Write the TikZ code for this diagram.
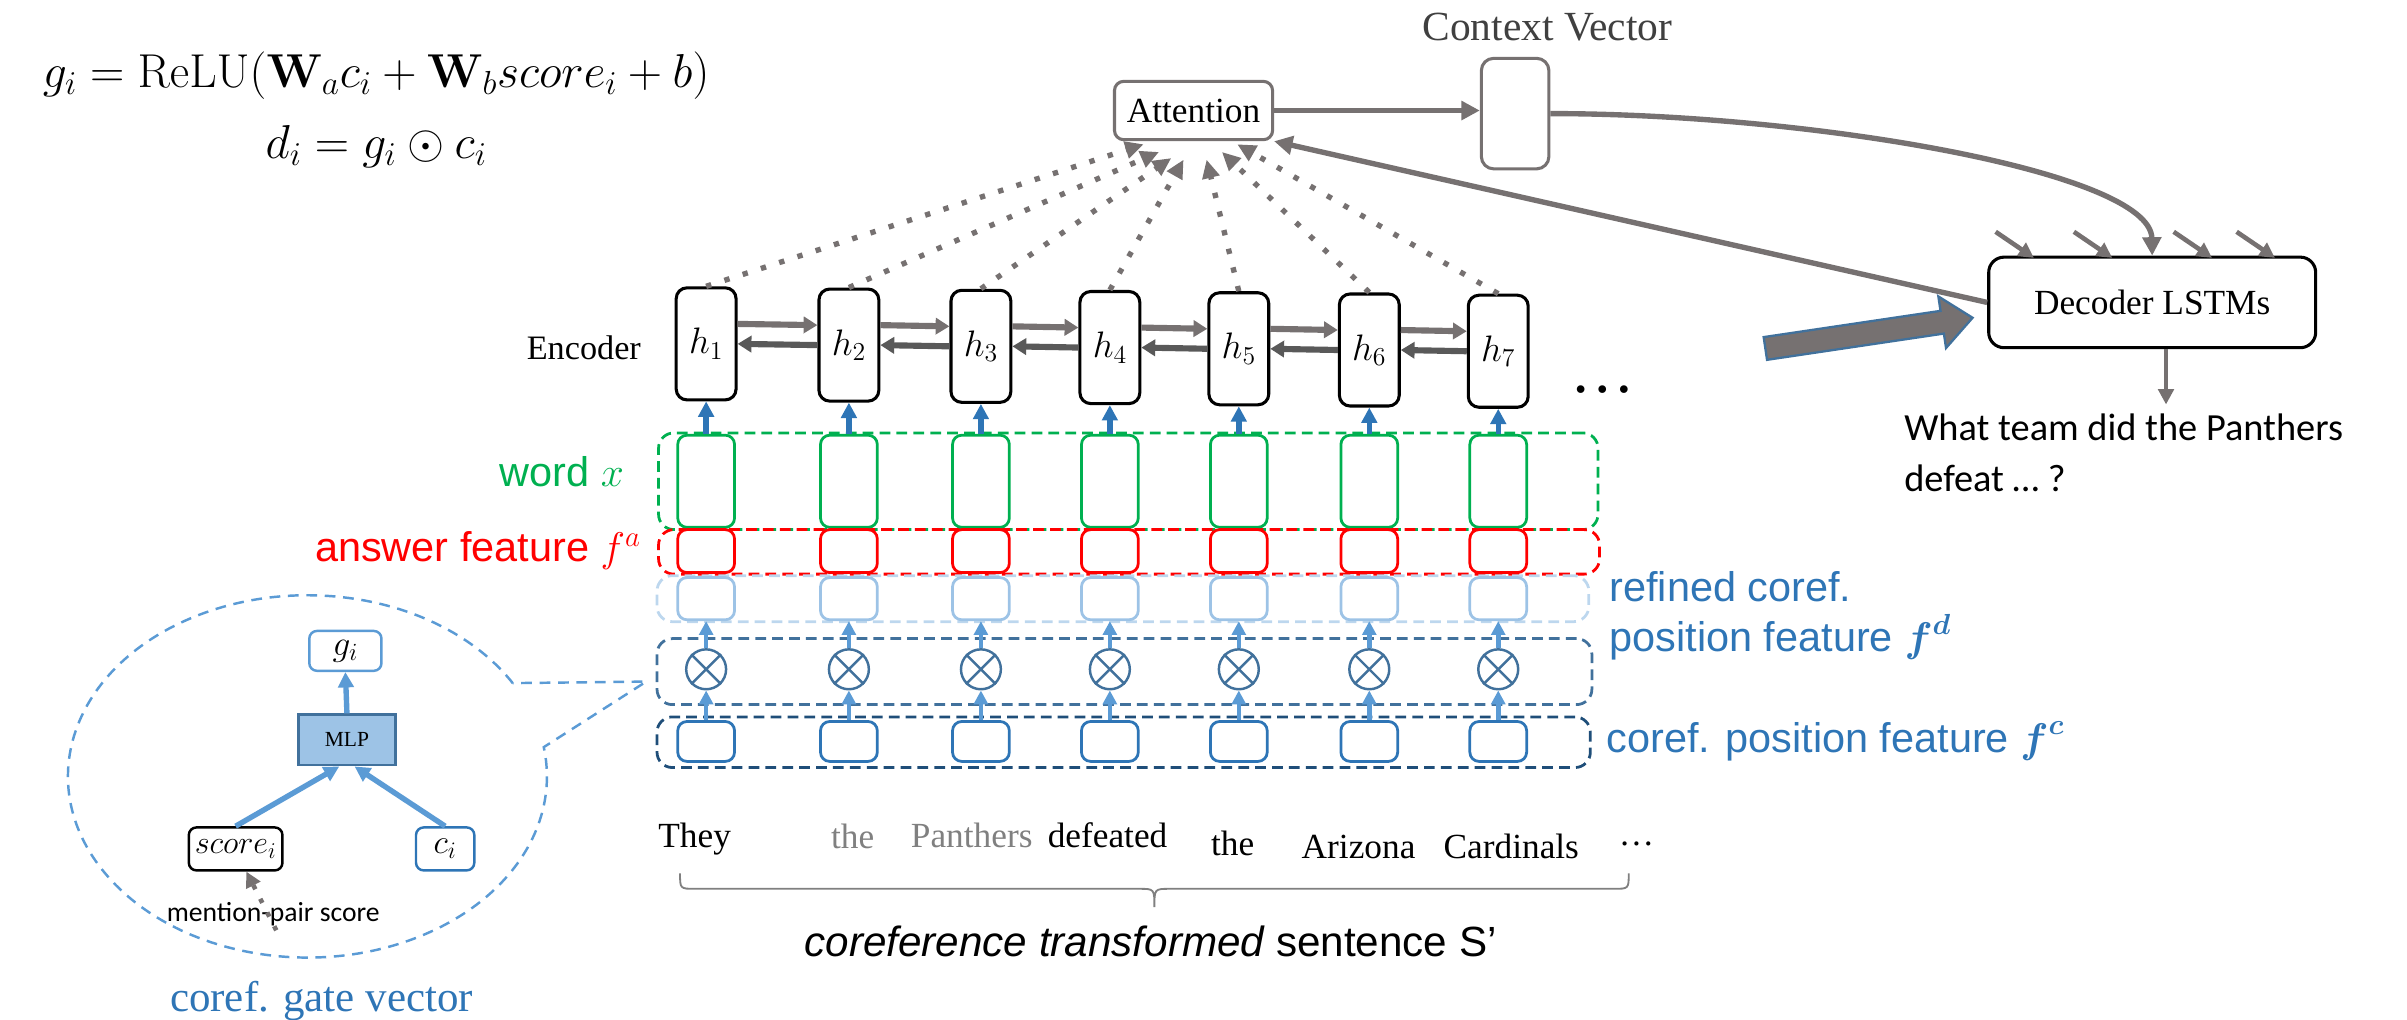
\RequirePackage{fix-cm}
\documentclass[tikz,border=0pt]{standalone}
\usepackage{amsmath}
\usepackage[no-math]{fontspec}
\setmainfont{Liberation Serif}
\newfontfamily\fArial{Liberation Sans}
\newfontfamily\fCal{Carlito}
\usetikzlibrary{arrows.meta,calc}
\definecolor{agray}{HTML}{767171}
\definecolor{dgray}{HTML}{595959}
\definecolor{tgray}{HTML}{404040}
\definecolor{wgray}{HTML}{808080}
\definecolor{cgreen}{HTML}{00B050}
\definecolor{cred}{HTML}{FF0000}
\definecolor{bT}{HTML}{2E75B6}
\definecolor{bM}{HTML}{5B9BD5}
\definecolor{bL}{HTML}{9DC3E6}
\definecolor{bLL}{HTML}{BDD7EE}
\definecolor{bS}{HTML}{41719C}
\definecolor{bN}{HTML}{1F4E79}
\tikzset{
 hbox/.style={draw=black, line width=2pt, rounded corners=7pt, minimum width=39pt, minimum height=73pt, inner sep=0pt, font=\fontsize{24}{28}\selectfont},
 colbox/.style={rounded corners=6pt, line width=1.8pt, minimum width=37pt, inner sep=0pt},
 grp/.style={dash pattern=on 7pt off 4pt, line width=1.8pt, rounded corners=10pt, inner sep=0pt},
 otimes/.style={circle, draw=bS, line width=1.6pt, minimum size=26pt, inner sep=0pt},
 fwd/.style={draw=agray, line width=4pt, -{Triangle[length=9pt,width=10.5pt]}},
 bwd/.style={draw=dgray, line width=4pt, -{Triangle[length=9pt,width=10.5pt]}},
 dotarr/.style={draw=agray, line width=3.5pt, dash pattern=on 3.5pt off 9pt, -{Triangle[length=12pt,width=11pt]}},
 bup/.style={draw=bT, line width=3.5pt, -{Triangle[length=10pt,width=10pt]}},
 mup/.style={draw=bM, line width=3pt, -{Triangle[length=9pt,width=9pt]}},
 garr/.style={draw=agray, line width=3.5pt, -{Triangle[length=12pt,width=12pt]}},
 sarr/.style={draw=agray, line width=3pt, -{Triangle[length=10pt,width=10pt]}},
 serif/.style={font=\fontsize{23}{27}\selectfont},
 sans/.style={font=\fArial\fontsize{27}{32}\selectfont},
}
\begin{document}
\begin{tikzpicture}[x=1pt,y=-1pt]
\useasboundingbox (0,0) rectangle (1568,664);

% formula
\node[anchor=base, font=\fontsize{31}{37}\selectfont] (f1) at (245,57) {$g_i = \mathrm{ReLU}(\mathbf{W}_a c_i + \mathbf{W}_b score_i + b)$};
\node[anchor=base, font=\fontsize{31}{37}\selectfont] (f2) at (245,103) {$d_i = g_i \odot c_i$};

% group boxes
\node[grp, draw=cgreen, minimum width=612pt, minimum height=63pt] (G) at (735,313.5) {};
\node[grp, draw=cred, minimum width=613pt, minimum height=29pt] (R) at (735.5,359.5) {};
\node[grp, draw=bLL, minimum width=607pt, minimum height=30pt] (L) at (731.5,390) {};
\node[grp, draw=bS, minimum width=609pt, minimum height=43pt] (O) at (732.5,437.5) {};
\node[grp, draw=bN, minimum width=608pt, minimum height=33pt] (C) at (732,483.5) {};

% columns
\foreach \i/\x in {1/460,2/553,3/639,4/723,5/807,6/892,7/976}{
 \pgfmathsetmacro\yh{224+0.8*(\i-1)}
 \node[hbox] (h\i) at (\x,\yh) {$h_{\i}$};
 \node[colbox, draw=cgreen, minimum height=60pt] (g\i) at (\x,313.5) {};
 \node[colbox, draw=cred, minimum height=28pt] (r\i) at (\x,359) {};
 \node[colbox, draw=bL, minimum height=27.5pt] (l\i) at (\x,390) {};
 \node[otimes] (o\i) at (\x,436) {};
 \node[colbox, draw=bT, minimum height=26pt] (c\i) at (\x,483) {};
 \draw[bS, line width=1.6pt] (o\i.north west) -- (o\i.south east) (o\i.north east) -- (o\i.south west);
 \draw[bup] (g\i.north) -- (h\i.south);
 \draw[mup] (o\i.north) -- (l\i.south);
 \draw[mup] (c\i.north) -- (o\i.south);
}
\foreach \i/\j in {1/2,2/3,3/4,4/5,5/6,6/7}{
 \draw[fwd] ([yshift=13pt]h\i.east) -- ([yshift=13pt]h\j.west);
 \draw[bwd] (h\j.west) -- (h\i.east);
}
\node[anchor=base, font=\fontsize{42}{50}\selectfont] (ell) at (1044,256) {…};
\node[anchor=base east, font=\fontsize{22.3}{26}\selectfont] (enc) at (421,234.5) {Encoder};

% labels
\node[anchor=base east, text=cgreen, sans] (lw) at (410,317) {word $x$};
\node[anchor=base east, text=cred, sans] (la) at (421,366) {answer feature $f^{a}$};
\node[anchor=base west, text=bT, sans] (lr1) at (1045,392) {refined coref.};
\node[anchor=base west, text=bT, sans] (lr2) at (1045,424.5) {position feature $\boldsymbol{f}^{\boldsymbol{d}}$};
\node[anchor=base west, text=bT, sans] (lc) at (1043,490) {coref. position feature $\boldsymbol{f}^{\boldsymbol{c}}$};

% attention and context
\node[draw=agray, line width=2pt, rounded corners=6pt, minimum width=103pt, minimum height=38pt, inner sep=0pt, serif] (att) at (777.5,72) {Attention};
\node[draw=agray, line width=2pt, rounded corners=8pt, minimum width=44pt, minimum height=72pt, inner sep=0pt] (ctx) at (987,74) {};
\node[anchor=base, text=tgray, font=\fontsize{27}{32}\selectfont] (ctxl) at (1008,26.5) {Context Vector};
\draw[garr] (att.east) -- (att.east -| ctx.west);
\foreach \i/\x/\y in {1/745/94,2/755/99,3/763/103,4/771/104,5/786/104,6/796/99,7/806/94}{
 \coordinate (a\i) at (\x,\y);
 \draw[dotarr] (h\i.north) -- (a\i);
}

% decoder
\node[draw=black, line width=2pt, rounded corners=10pt, minimum width=213pt, minimum height=59pt, inner sep=0pt, serif] (dec) at (1402,197) {Decoder LSTMs};
\draw[garr] (ctx.east) .. controls (1180,74) and (1401,112) .. (dec.north);
\draw[garr] (dec.west) -- (att.south east);
\foreach \i/\x in {1/1300,2/1351,3/1416,4/1457}{
 \coordinate (s\i) at (\x,151);
 \coordinate (t\i) at (\x+25,168);
 \draw[sarr] (s\i) -- (t\i);
}
\filldraw[fill=agray, draw=bS, line width=1.5pt] (1148.9,219.6) -- (1264.1,202.5) -- (1262.7,193.1) -- (1285,207) -- (1267.7,226.7) -- (1266.3,217.3) -- (1151.1,234.4) -- cycle;
\node[anchor=base west, font=\fCal\fontsize{25}{30}\selectfont] (q1) at (1237,287) {What team did the Panthers};
\node[anchor=base west, font=\fCal\fontsize{25}{30}\selectfont] (q2) at (1237,320) {defeat … ?};
\draw[sarr] ([xshift=9pt]dec.south) -- ++(0,36);

% sentence
\node[anchor=base, serif] (w1) at (452.5,552) {They};
\node[anchor=base, serif, text=wgray] (w2) at (555.5,553) {the};
\node[anchor=base, serif, text=wgray] (w3) at (633,552) {Panthers};
\node[anchor=base, serif] (w4) at (721.5,552) {defeated};
\node[anchor=base, serif] (w5) at (803,557) {the};
\node[anchor=base, serif] (w6) at (885,559) {Arizona};
\node[anchor=base, serif] (w7) at (984.5,559) {Cardinals};
\node[anchor=base, serif] (w8) at (1066,551) {…};
\draw[wgray, line width=1.2pt] (443,569) .. controls (443,579) .. (453,579) -- (742,579) .. controls (752,579) .. (752,591) .. controls (752,579) .. (762,579) -- (1051,579) .. controls (1061,579) .. (1061,569);
\node[anchor=base, font=\fArial\fontsize{27.5}{32}\selectfont] (sent) at (749.5,623) {\itshape coreference transformed\upshape{} sentence S’};

% gate bubble
\coordinate (tip) at (421,444);
\draw[bM, dash pattern=on 7pt off 5pt, line width=1.6pt] (334,445) arc[start angle=31, end angle=369.3, x radius=156pt, y radius=118pt] -- (tip) -- cycle;
\node[draw=bM, line width=1.6pt, rounded corners=5pt, minimum width=47pt, minimum height=26pt, inner sep=0pt, font=\fontsize{23}{26}\selectfont] (gi) at (225,424) {$g_i$};
\node[draw=bS, fill=bL, line width=1.6pt, minimum width=63pt, minimum height=33pt, inner sep=0pt, font=\fontsize{14}{16}\selectfont] (mlp) at (226,482) {\raisebox{-6pt}{MLP}};
\node[draw=black, line width=1.6pt, rounded corners=5pt, minimum width=61pt, minimum height=28pt, inner sep=0pt, font=\fontsize{21}{24}\selectfont] (score) at (153.5,553) {$score_i$};
\node[draw=bT, line width=1.6pt, rounded corners=5pt, minimum width=38pt, minimum height=28pt, inner sep=0pt, font=\fontsize{22}{24}\selectfont] (ci) at (290,553) {$c_i$};
\draw[bM, line width=3.5pt, -{Triangle[length=10pt,width=10pt]}] (score.north) -- ([xshift=-5pt]mlp.south);
\draw[bM, line width=3.5pt, -{Triangle[length=10pt,width=10pt]}] (ci.north) -- ([xshift=5pt]mlp.south);
\draw[bM, line width=3.5pt, -{Triangle[length=10pt,width=10pt]}] (mlp.north) -- (gi.south);
\node[anchor=base, font=\fCal\fontsize{18}{22}\selectfont] (mp) at (178,600.5) {mention-pair score};
\coordinate (mps) at (180,606);
\draw[agray, line width=3pt, dash pattern=on 3pt off 7pt, -{Triangle[length=10pt,width=10pt]}] (mps) -- ([xshift=7pt]score.south);
\node[anchor=base, text=bT, font=\fontsize{28}{32}\selectfont] (gate) at (209.5,659) {coref. gate vector};
\end{tikzpicture}
\end{document}
